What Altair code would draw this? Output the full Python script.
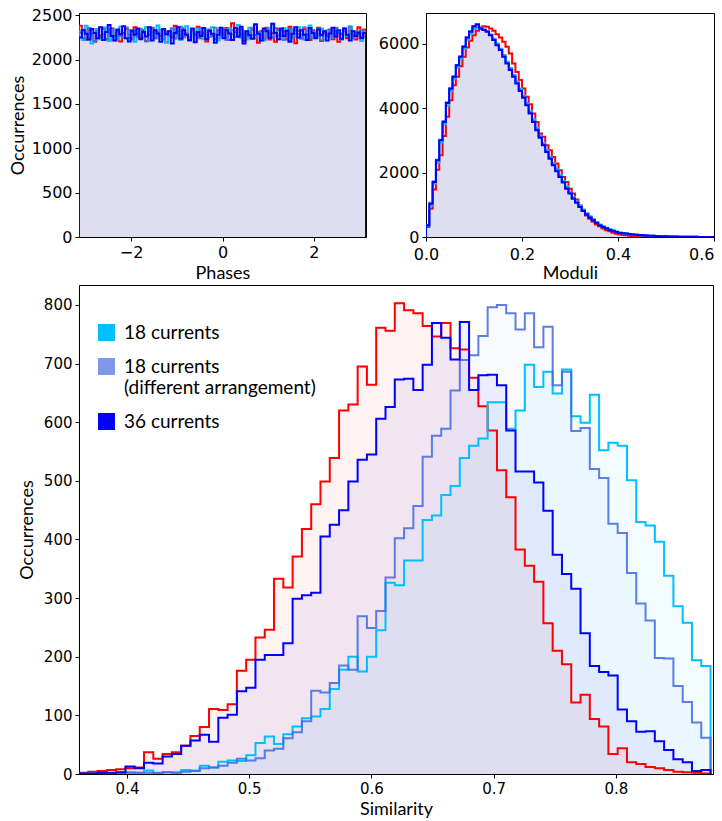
import math
import altair as alt
import pandas as pd

RED, CYAN, MED, BLUE = "#ff0000", "#00bfff", "#4169e1", "#0000ff"
N_CYAN = "18 currents"
N_MED = "18 currents|(different arrangement)"
N_BLUE = "36 currents"
N_RED = "reference"

# ---------------- Similarity histogram (bottom) ----------------
SIM_START = 0.3607
SIM_WIDTH = 0.0076
sim_red = [2, 4, 5, 7, 8, 10, 11, 37, 26, 34, 37, 48, 65, 80, 111, 109, 119, 176, 195, 233,
           246, 333, 318, 371, 418, 460, 499, 539, 620, 630, 695, 664, 761, 756, 803, 791, 786, 764, 746, 769,
           726, 724, 676, 627, 586, 518, 472, 383, 355, 328, 257, 210, 187, 122, 135, 94, 81, 34, 44, 20,
           17, 12, 10, 7, 4, 3, 2, 1]
sim_cyan = [0, 0, 1, 1, 2, 3, 2, 6, 1, 3, 1, 7, 6, 14, 11, 21, 23, 22, 32, 53,
            64, 51, 68, 81, 95, 98, 111, 145, 178, 200, 175, 200, 245, 326, 322, 364, 364, 433, 441, 476,
            491, 539, 560, 572, 634, 634, 589, 620, 698, 660, 686, 649, 690, 610, 599, 647, 552, 565, 560, 501,
            430, 424, 396, 338, 286, 258, 194, 184]
sim_med = [1, 1, 1, 1, 1, 2, 2, 2, 2, 3, 3, 4, 5, 10, 11, 14, 19, 26, 23, 27,
           40, 43, 61, 71, 90, 142, 139, 155, 185, 178, 269, 249, 278, 335, 402, 419, 457, 541, 577, 589,
           654, 706, 714, 747, 796, 800, 786, 758, 786, 728, 763, 663, 686, 585, 590, 520, 505, 427, 411, 343,
           291, 262, 198, 197, 150, 123, 88, 62]
sim_blue = [1, 1, 2, 2, 3, 13, 10, 19, 18, 30, 34, 48, 57, 67, 55, 96, 101, 141, 147, 195,
            203, 203, 223, 299, 305, 309, 405, 425, 450, 499, 536, 545, 606, 626, 673, 674, 655, 698, 769, 744,
            707, 771, 655, 680, 681, 663, 586, 516, 516, 497, 449, 374, 341, 316, 240, 184, 174, 168, 110, 90,
            72, 73, 56, 41, 25, 20, 5, 7]

# ---------------- Phases histogram (top left) ----------------
ph_red = [2380, 2240, 2225, 2330, 2290, 2200, 2340, 2270, 2360, 2230,
          2215, 2350, 2260, 2320, 2205, 2300, 2345, 2250, 2235, 2365,
          2290, 2245, 2330, 2210, 2280, 2355, 2240, 2310, 2265, 2340,
          2195, 2320, 2250, 2380, 2280, 2225, 2350, 2270, 2215, 2325,
          2285, 2370, 2240, 2305, 2205, 2340, 2265, 2230, 2330, 2290,
          2250, 2355, 2220, 2410, 2310, 2255, 2340, 2210, 2295, 2240,
          2335, 2275, 2190, 2320, 2250, 2360, 2225, 2300, 2200, 2345,
          2265, 2320, 2230, 2370, 2285, 2185, 2325, 2245, 2345, 2280,
          2220, 2330, 2250, 2360, 2210, 2305, 2260, 2340, 2230, 2320,
          2200, 2290, 2350, 2240, 2330, 2275, 2225, 2365, 2250, 2340]
ph_cyan = [2320, 2220, 2380, 2250, 2180, 2300, 2345, 2230, 2280, 2360,
           2210, 2330, 2255, 2225, 2370, 2270, 2240, 2335, 2300, 2200,
           2345, 2280, 2245, 2365, 2215, 2310, 2265, 2385, 2235, 2330,
           2190, 2300, 2355, 2245, 2320, 2220, 2290, 2375, 2250, 2315,
           2205, 2345, 2280, 2230, 2330, 2255, 2365, 2295, 2215, 2340,
           2270, 2240, 2350, 2285, 2320, 2390, 2245, 2310, 2225, 2360,
           2280, 2400, 2310, 2240, 2215, 2350, 2290, 2405, 2265, 2325,
           2230, 2355, 2295, 2210, 2340, 2255, 2365, 2280, 2225, 2320,
           2385, 2245, 2310, 2270, 2350, 2220, 2330, 2280, 2245, 2360,
           2300, 2230, 2345, 2265, 2375, 2240, 2320, 2285, 2210, 2310]
ph_med = [2300, 2335, 2225, 2355, 2270, 2210, 2325, 2250, 2345, 2230,
          2295, 2350, 2215, 2320, 2265, 2245, 2365, 2280, 2225, 2330,
          2255, 2345, 2300, 2205, 2320, 2360, 2240, 2285, 2335, 2225,
          2310, 2270, 2345, 2235, 2320, 2370, 2250, 2295, 2215, 2340,
          2280, 2245, 2355, 2290, 2230, 2325, 2265, 2360, 2240, 2305,
          2345, 2220, 2285, 2330, 2255, 2345, 2290, 2235, 2320, 2270,
          2360, 2240, 2310, 2280, 2225, 2340, 2295, 2250, 2355, 2270,
          2325, 2220, 2290, 2350, 2250, 2330, 2285, 2235, 2365, 2290,
          2240, 2320, 2270, 2345, 2215, 2300, 2280, 2330, 2245, 2355,
          2295, 2225, 2320, 2270, 2365, 2240, 2310, 2285, 2330, 2260]
ph_blue = [2250, 2330, 2290, 2225, 2345, 2300, 2240, 2365, 2220, 2310,
           2390, 2265, 2215, 2340, 2285, 2375, 2240, 2205, 2325, 2280,
           2350, 2230, 2310, 2260, 2365, 2215, 2330, 2295, 2200, 2345,
           2285, 2320, 2180, 2300, 2365, 2235, 2330, 2280, 2220, 2350,
           2195, 2310, 2265, 2355, 2230, 2325, 2290, 2190, 2280, 2360,
           2240, 2330, 2295, 2220, 2355, 2260, 2370, 2180, 2320, 2275,
           2235, 2395, 2290, 2215, 2350, 2320, 2245, 2405, 2300, 2230,
           2350, 2265, 2325, 2200, 2290, 2365, 2250, 2330, 2280, 2220,
           2355, 2300, 2240, 2340, 2275, 2320, 2215, 2295, 2360, 2260,
           2330, 2235, 2350, 2280, 2215, 2320, 2265, 2305, 2240, 2300]

# ---------------- Moduli histogram (top right) ----------------
MOD_WIDTH = 0.0069
mod_red = [310, 880, 1470, 2090, 2540, 3130, 3730, 4240, 4710, 4970, 5300, 5590, 5880, 6090, 6260, 6400, 6500, 6540, 6520, 6470,
           6400, 6290, 6190, 6060, 5900, 5690, 5380, 5120, 4870, 4610, 4350, 4120, 3830, 3570, 3210, 3110, 2850, 2690, 2480, 2280,
           2070, 1860, 1710, 1500, 1350, 1160, 980, 830, 670, 570, 470, 390, 330, 260, 210, 175, 135, 100, 80, 64,
           52, 42, 34, 27, 22, 17, 14, 11, 9, 7, 5, 4, 3, 3, 2, 2, 1, 1, 1, 1,
           0, 0, 0, 0, 0, 0, 0]
mod_cyan = [340, 990, 1660, 2300, 2930, 3500, 4080, 4540, 4920, 5270, 5550, 5850, 6120, 6310, 6450, 6490, 6460, 6430, 6380, 6280,
            6150, 6000, 5840, 5650, 5440, 5240, 5030, 4820, 4600, 4380, 4150, 3900, 3650, 3390, 3150, 2920, 2700, 2490, 2290, 2100,
            1920, 1740, 1560, 1400, 1240, 1100, 970, 850, 740, 640, 550, 465, 390, 335, 285, 240, 200, 168, 138, 120,
            106, 93, 81, 71, 62, 54, 47, 41, 36, 31, 27, 23, 20, 17, 14, 12, 10, 8, 7, 6,
            5, 4, 3, 2, 2, 1, 1]
mod_med = [370, 1060, 1730, 2400, 3020, 3600, 4180, 4620, 4990, 5340, 5610, 5920, 6200, 6390, 6520, 6560, 6500, 6440, 6390, 6270,
           6120, 5960, 5810, 5610, 5400, 5200, 4990, 4780, 4560, 4340, 4110, 3860, 3600, 3340, 3110, 2880, 2660, 2450, 2250, 2060,
           1880, 1710, 1520, 1370, 1210, 1080, 950, 830, 720, 620, 535, 450, 375, 320, 270, 228, 192, 160, 130, 118,
           104, 91, 80, 70, 61, 53, 46, 40, 35, 30, 26, 22, 19, 16, 14, 12, 10, 8, 7, 6,
           5, 4, 3, 2, 2, 1, 1]
mod_blue = [360, 1035, 1710, 2380, 3000, 3570, 4160, 4600, 4970, 5330, 5590, 5900, 6190, 6370, 6540, 6600, 6470, 6420, 6370, 6260,
            6110, 5950, 5800, 5590, 5380, 5180, 4970, 4760, 4530, 4320, 4090, 3830, 3570, 3310, 3080, 2850, 2640, 2430, 2230, 2040,
            1860, 1690, 1500, 1350, 1190, 1060, 930, 810, 700, 600, 520, 435, 360, 310, 260, 220, 185, 155, 125, 118,
            105, 92, 80, 70, 62, 54, 47, 41, 36, 31, 27, 23, 20, 17, 14, 12, 10, 8, 7, 6,
            5, 4, 3, 2, 2, 1, 1]

SERIES = [(N_RED, RED, 1.0), (N_CYAN, CYAN, 1.0), (N_MED, MED, 0.85), (N_BLUE, BLUE, 1.0)]
FILL_SCALE = alt.Scale(domain=[N_CYAN, N_MED, N_BLUE, N_RED],
                       range=[CYAN, "#7f98ea", BLUE, RED])


def steps(values, start, width, name):
    n = len(values)
    xs = [start] + [start + i * width for i in range(n)] + [start + n * width] * 2
    ys = [0] + list(values) + [values[-1], 0]
    cap = [True] + [False] * (n + 1) + [True]
    return pd.DataFrame({"x": xs, "y": ys, "i": list(range(n + 3)), "s": name, "cap": cap})


def panel(data, start, width, xdom, ydom, xaxis, yaxis, w, h, legend=None):
    frames = []
    for name, _, _ in SERIES:
        vals = data[name]
        wd = width if width else (2 * math.pi / len(vals))
        frames.append(steps(vals, start, wd, name))
    df = pd.concat(frames, ignore_index=True)
    xs = alt.Scale(domain=xdom, nice=False, zero=False)
    ys = alt.Scale(domain=ydom, nice=False)
    base = alt.Chart(df)
    area = base.transform_filter("!datum.cap").mark_area(
        interpolate="step-after", fillOpacity=0.05, clip=True
    ).encode(
        x=alt.X("x:Q", scale=xs, axis=xaxis),
        y=alt.Y("y:Q", scale=ys, axis=yaxis, stack=None),
        fill=alt.Fill("s:N", scale=FILL_SCALE, legend=legend),
    )
    layers = [area]
    for name, col, op in SERIES:
        layers.append(
            base.transform_filter(alt.datum.s == name).mark_line(
                interpolate="step-after", strokeWidth=2, clip=True, color=col, opacity=op
            ).encode(x=alt.X("x:Q", scale=xs), y=alt.Y("y:Q", scale=ys), order="i:Q")
        )
    return alt.layer(*layers).properties(width=w, height=h)


tl = panel(
    {N_RED: ph_red, N_CYAN: ph_cyan, N_MED: ph_med, N_BLUE: ph_blue},
    -math.pi, None, [-math.pi, math.pi], [0, 2525],
    alt.Axis(title="Phases", values=[-2, 0, 2], format="d"),
    alt.Axis(title="Occurrences", values=[0, 500, 1000, 1500, 2000, 2500], format="d"),
    287, 224,
)
tr = panel(
    {N_RED: mod_red, N_CYAN: mod_cyan, N_MED: mod_med, N_BLUE: mod_blue},
    0.0, MOD_WIDTH, [0, 0.6], [0, 6950],
    alt.Axis(title="Moduli", values=[0, 0.2, 0.4, 0.6], format=".1f", labelPadding=5, titlePadding=2,
             labelAlign={"condition": {"test": "datum.value >= 0.59", "value": "right"}, "value": "center"}),
    alt.Axis(title=None, values=[0, 2000, 4000, 6000], format="d"),
    288, 224,
)
legend = alt.Legend(
    title=None, orient="none", legendX=18, legendY=38, values=[N_CYAN, N_MED, N_BLUE],
    symbolType="square", symbolSize=290, symbolStrokeWidth=0, symbolOpacity=1,
    labelFont="Lato", labelFontSize=19, labelColor="black", labelOffset=8,
    labelExpr="split(datum.label, '|')", rowPadding=14, labelLimit=400,
)
bottom = panel(
    {N_RED: sim_red, N_CYAN: sim_cyan, N_MED: sim_med, N_BLUE: sim_blue},
    SIM_START, SIM_WIDTH, [0.3607, 0.8795], [0, 834],
    alt.Axis(title="Similarity", values=[0.4, 0.5, 0.6, 0.7, 0.8], format=".1f", labelFontSize=15),
    alt.Axis(title="Occurrences", values=[0, 100, 200, 300, 400, 500, 600, 700, 800], format="d",
             labelFontSize=15, titlePadding=7),
    634, 489, legend=legend,
)

top = alt.hconcat(tl, tr, spacing=10).resolve_scale(fill="independent").resolve_legend(fill="independent")
chart = alt.vconcat(top, bottom, spacing=1).resolve_scale(
    fill="independent"
).resolve_legend(
    fill="independent"
).properties(
    padding={"left": 8, "top": 6, "right": 0, "bottom": 2}
).configure_view(
    stroke="black", strokeWidth=1
).configure_axis(
    labelFont="DejaVu Sans", labelFontSize=16, labelColor="black", labelPadding=3,
    tickSize=4, tickColor="black", tickWidth=1, domainColor="black", domainWidth=1,
    titleFont="Lato", titleFontSize=18, titleFontWeight="normal", titleColor="black",
    titlePadding=4, grid=False, labelFlush=False,
)

chart.save("out.html", embed_options={"renderer": "svg", "actions": False})
